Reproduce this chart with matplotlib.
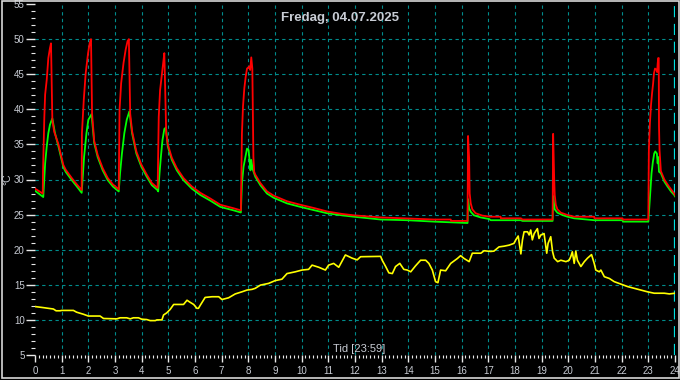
import numpy as np
import matplotlib
matplotlib.use("Agg")
import matplotlib.pyplot as plt
from matplotlib.patches import Rectangle
from matplotlib.ticker import MultipleLocator

plt.rcParams['font.family'] = ['Liberation Sans', 'DejaVu Sans']

title = "Fredag, 04.07.2025"
xlabel = "Tid [23:59]"
ylabel = "°C"

# green line (hours, degC)
green_t = [0.00, 0.31, 0.38, 0.44, 0.50, 0.56, 0.65, 0.75, 0.88, 1.06, 1.15, 1.38, 1.57, 1.75,
           1.80, 1.84, 1.93, 2.00, 2.12, 2.22, 2.35, 2.54, 2.73, 2.92, 3.14,
           3.19, 3.26, 3.35, 3.44, 3.54, 3.64, 3.80, 3.99, 4.19, 4.38, 4.59, 4.62,
           4.67, 4.72, 4.78, 4.85, 4.91, 4.98, 5.13, 5.32, 5.57, 5.88, 6.20, 6.57, 6.95, 7.45, 7.72,
           7.76, 7.82, 7.89, 7.95, 8.01, 8.08, 8.11, 8.16, 8.26, 8.45, 8.70, 8.95, 9.45, 9.95,
           10.50, 10.95, 11.50, 11.95, 12.96, 13.96, 14.96, 15.60, 16.22,
           16.24, 16.28, 16.34, 16.46, 16.71, 17.03, 17.09, 18.22, 18.28, 19.41,
           19.43, 19.49, 19.59, 19.78, 19.97, 20.22, 20.97, 22.03, 22.05, 23.00,
           23.07, 23.12, 23.17, 23.22, 23.26, 23.32, 23.35, 23.37, 23.40, 23.47, 23.60,
           23.72, 23.85, 23.97, 24.00]
green_v = [28.4, 27.5, 32.3, 34.7, 36.6, 37.8, 38.7, 36.6, 34.7, 31.8, 31.1, 29.9, 29.0, 28.1,
           30.9, 33.2, 36.6, 38.5, 39.3, 35.2, 33.2, 31.3, 29.9, 29.0, 28.3,
           30.9, 33.7, 36.6, 38.5, 39.7, 36.6, 33.7, 31.8, 30.4, 29.2, 28.5, 28.3,
           30.9, 33.2, 35.6, 37.2, 37.4, 34.7, 32.8, 31.3, 29.9, 28.7, 27.8, 27.0, 26.1, 25.6, 25.3,
           29.5, 31.8, 33.2, 34.4, 34.2, 31.3, 32.8, 31.5, 30.4, 29.2, 28.0, 27.4, 26.6, 26.1,
           25.6, 25.2, 24.9, 24.7, 24.3, 24.2, 24.0, 23.9, 23.8,
           27.2, 25.9, 25.4, 24.9, 24.6, 24.37, 24.2, 24.2, 24.1, 24.1,
           27.65, 25.75, 25.27, 24.94, 24.7, 24.47, 24.2, 24.2, 24.0, 24.0,
           28.0, 30.9, 32.5, 33.7, 34.0, 33.7, 32.3, 33.2, 31.1, 30.9, 29.7,
           29.0, 28.3, 27.8, 27.6]

# red line (hours, degC)
red_t = [0.00, 0.29, 0.30, 0.35, 0.38, 0.44, 0.50, 0.56, 0.60, 0.65, 0.72, 0.88, 1.06, 1.15, 1.38, 1.57, 1.75,
         1.76, 1.83, 1.90, 1.99, 2.05, 2.10, 2.14, 2.22, 2.35, 2.54, 2.73, 2.92, 3.14,
         3.17, 3.23, 3.32, 3.40, 3.47, 3.52, 3.57, 3.64, 3.80, 3.99, 4.19, 4.38, 4.60,
         4.64, 4.69, 4.76, 4.81, 4.85, 4.92, 4.98, 5.13, 5.32, 5.57, 5.88, 6.20, 6.57, 6.95, 7.45, 7.72,
         7.76, 7.80, 7.85, 7.90, 7.95, 8.04, 8.07, 8.11, 8.15, 8.19, 8.22, 8.26, 8.45, 8.70, 8.95,
         9.45, 9.95, 10.50, 10.95, 11.50, 11.95, 12.96, 13.96, 14.96, 15.59, 15.60, 16.22,
         16.24, 16.28, 16.30, 16.34, 16.40, 16.52, 16.78, 17.09, 17.46, 17.47, 18.22, 18.28, 19.41,
         19.43, 19.47, 19.49, 19.53, 19.59, 19.72, 19.97, 20.22, 20.97, 20.98, 22.03, 22.04, 23.00,
         23.02, 23.06, 23.10, 23.14, 23.18, 23.21, 23.25, 23.31, 23.33, 23.35, 23.37, 23.39,
         23.40, 23.42, 23.47, 23.60, 23.72, 23.85, 23.97, 24.00]
red_v = [28.7, 28.0, 31.0, 38.9, 42.1, 44.2, 47.3, 48.7, 49.4, 38.5, 36.8, 35.0, 32.1, 31.4, 30.2, 29.3, 28.5,
         36.6, 41.4, 45.1, 48.0, 49.4, 50.0, 39.4, 35.5, 33.5, 31.6, 30.2, 29.3, 28.6,
         39.9, 43.7, 46.6, 48.5, 49.7, 50.0, 39.4, 36.9, 34.0, 32.1, 30.7, 29.5, 28.8,
         38.9, 42.7, 45.1, 46.7, 48.0, 36.6, 35.0, 33.1, 31.6, 30.2, 29.0, 28.1, 27.3, 26.4, 25.9, 25.6,
         36.6, 40.4, 43.0, 44.6, 45.8, 46.1, 45.6, 47.4, 45.8, 33.2, 31.1, 30.7, 29.5, 28.3, 27.7,
         26.9, 26.4, 25.9, 25.45, 25.1, 24.9, 24.6, 24.45, 24.3, 24.3, 24.1, 24.1,
         36.2, 33.0, 28.0, 26.6, 25.75, 25.2, 24.85, 24.7, 24.7, 24.47, 24.47, 24.3, 24.3,
         36.5, 30.0, 27.8, 26.4, 25.75, 25.27, 24.94, 24.7, 24.7, 24.47, 24.47, 24.3, 24.3,
         34.2, 38.1, 40.6, 42.3, 43.7, 45.1, 45.8, 45.6, 45.3, 46.5, 47.3, 47.3,
         37.6, 34.2, 31.2, 30.0, 29.3, 28.6, 28.0, 27.8]

# yellow line (outdoor)
yellow_t = [0.00, 0.31, 0.69, 0.79, 0.94, 1.00, 1.44, 1.56, 1.82, 2.00, 2.44, 2.57, 3.07, 3.19, 3.44,
            3.57, 3.69, 3.88, 4.00, 4.19, 4.32, 4.51, 4.57, 4.76, 4.82, 4.94, 5.07, 5.20, 5.57,
            5.70, 5.82, 5.95, 6.07, 6.13, 6.20, 6.38, 6.64, 6.89, 7.01, 7.26, 7.51, 7.76, 7.95,
            8.14, 8.26, 8.45, 8.76, 9.01, 9.26, 9.45, 9.76, 10.01, 10.26, 10.39, 10.64, 10.89,
            11.01, 11.20, 11.39, 11.64, 11.89, 12.08, 12.21, 12.96, 13.02, 13.15, 13.27, 13.40,
            13.52, 13.68, 13.83, 13.96, 14.09, 14.27, 14.46, 14.65, 14.77, 14.90, 15.02, 15.11,
            15.21, 15.40, 15.59, 15.84, 15.96, 16.09, 16.28, 16.40, 16.72, 16.84, 17.09, 17.21,
            17.40, 17.59, 17.78, 17.96, 18.03, 18.12, 18.22, 18.28, 18.34, 18.47, 18.53, 18.59,
            18.65, 18.72, 18.84, 18.90, 18.97, 19.09, 19.19, 19.24, 19.34, 19.41, 19.47, 19.60,
            19.72, 19.91, 20.03, 20.09, 20.15, 20.22, 20.28, 20.34, 20.47, 20.60, 20.72, 20.87,
            20.97, 21.03, 21.16, 21.22, 21.35, 21.54, 21.72, 21.97, 22.22, 22.47, 22.72, 22.97,
            23.22, 23.60, 23.79, 24.00]
yellow_v = [11.9, 11.75, 11.55, 11.3, 11.3, 11.35, 11.35, 11.1, 10.8, 10.55, 10.55, 10.2, 10.15, 10.3, 10.3,
            10.15, 10.3, 10.3, 10.1, 10.05, 9.9, 9.9, 10.0, 10.0, 10.7, 11.0, 11.5, 12.2, 12.2,
            12.8, 12.5, 12.2, 11.65, 11.65, 12.1, 13.2, 13.3, 13.3, 12.9, 13.15, 13.7, 14.0, 14.25,
            14.35, 14.5, 14.95, 15.2, 15.6, 15.8, 16.6, 16.85, 17.1, 17.2, 17.8, 17.5, 17.1,
            17.8, 18.05, 17.5, 19.25, 18.8, 18.55, 19.0, 19.05, 18.5, 17.6, 16.7, 16.6,
            17.6, 18.05, 17.2, 17.1, 16.85, 17.7, 18.5, 18.5, 18.05, 17.1, 15.45, 15.3,
            17.1, 17.0, 18.05, 18.75, 19.15, 18.75, 18.3, 19.5, 19.5, 19.85, 19.75, 19.8,
            20.4, 20.5, 20.65, 20.9, 21.4, 21.95, 19.4, 21.4, 22.55, 22.55, 22.1, 22.8,
            21.4, 22.3, 23.0, 21.6, 22.1, 22.3, 19.5, 20.9, 21.85, 19.7, 18.8, 18.3,
            18.5, 18.3, 18.5, 19.0, 19.7, 18.05, 19.8, 18.5, 17.6, 18.3, 18.8, 19.3,
            18.05, 17.1, 16.85, 17.1, 16.15, 15.9, 15.45, 15.1, 14.75, 14.5, 14.25, 14.0,
            13.8, 13.8, 13.7, 13.8]

fg = '#c8ccd4'
grid_col = '#008c8c'

fig = plt.figure(figsize=(6.8, 3.8), dpi=100, facecolor='black')
ax = fig.add_axes([35/680, 25/380, 640/680, 351/380])
ax.set_facecolor('black')

ax.set_xlim(0, 24)
ax.set_ylim(5, 55)

# grid
ax.vlines(range(1, 24), 5, 55, colors=grid_col, linewidth=0.8, linestyles=(0, (3, 3)), zorder=1)
ax.hlines(range(10, 55, 5), 0, 24, colors=grid_col, linewidth=0.8, linestyles=(0, (3, 3)), zorder=1)
ax.vlines([24], 5, 55, colors='#00e0e0', linewidth=1.6, linestyles=(0, (5, 3)), zorder=1)

ax.plot(yellow_t, yellow_v, color='#ffff00', linewidth=1.2, zorder=3)
ax.plot(green_t, green_v, color='#00ff00', linewidth=1.3, zorder=3)
ax.plot(red_t, red_v, color='#ff0000', linewidth=1.3, zorder=4)

for s in ax.spines.values():
    s.set_visible(False)

ax.xaxis.set_major_locator(MultipleLocator(1))
ax.xaxis.set_minor_locator(MultipleLocator(1/7))
ax.yaxis.set_major_locator(MultipleLocator(5))
ax.yaxis.set_minor_locator(MultipleLocator(1))
ax.tick_params(axis='both', which='both', colors='#e8e8e8', labelcolor=fg, labelsize=7)
ax.tick_params(axis='x', which='major', length=5, width=1, pad=3)
ax.tick_params(axis='x', which='minor', length=2.5, width=0.8)
ax.tick_params(axis='y', which='major', length=6.5, width=1, pad=1)
ax.tick_params(axis='y', which='minor', length=3, width=0.8)

fig.text(0.5, 1 - 18/380, title, color=fg, fontsize=9.5, fontweight='bold',
         ha='center', va='center')
fig.text(359/680, 1 - 349/380, xlabel, color=fg, fontsize=8, ha='center', va='center')
fig.text(7.5/680, 1 - 179/380, ylabel, color=fg, fontsize=7.5, rotation=90,
         ha='center', va='center')

# window frame
fig.patches.append(Rectangle((1.5/680, 2.5/380), 677/680, 376.5/380, transform=fig.transFigure,
                             fill=False, edgecolor='#d8d8d8', linewidth=1.2))

fig.savefig('out.png', dpi=100, facecolor='black')
